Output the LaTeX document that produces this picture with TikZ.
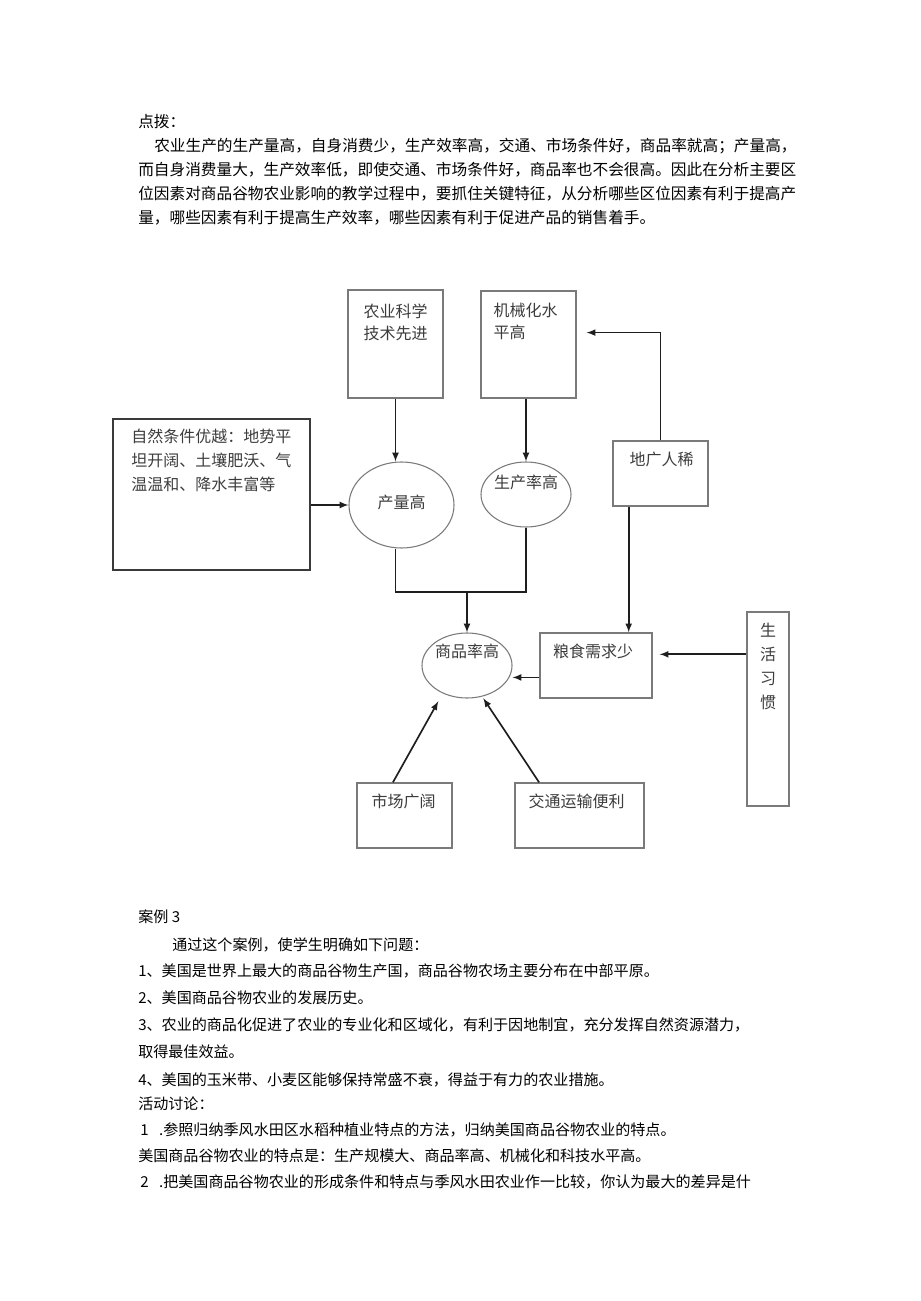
\documentclass[tikz,border=0pt]{standalone}
\usepackage{fontspec}
\setmainfont{Noto Sans CJK SC}
\usetikzlibrary{shapes.geometric,fit,calc}
\definecolor{BoxGray}{HTML}{7A7A7A}
\definecolor{FrameDark}{HTML}{3A3A3A}
\definecolor{InkDark}{HTML}{1E1E1E}
\definecolor{TxtGray}{HTML}{3C3C3C}
\tikzset{
	box/.style={draw=BoxGray, line width=1pt, inner sep=0pt},
	oval/.style={ellipse, draw=BoxGray, line width=0.8pt, inner sep=0pt},
	lbl/.style={text=TxtGray, font=\fontsize{12}{16.5}\selectfont, align=left},
	arr/.style={-latex, draw=InkDark, line width=1.25pt},
	para/.style={anchor=west, font=\fontsize{11.75}{14}\selectfont},
	item/.style={anchor=west, font=\fontsize{11.3}{14}\selectfont}
}

\begin{document}
\begin{tikzpicture}[x=0.75pt, y=-0.75pt, every node/.style={inner sep=0pt}]
		\useasboundingbox (0,0) rectangle (920,1301);
		
		% text above the chart
		\node[para] (p0) at (138,122) {点拨：};
		\node[para] (p1) at (154,146) {农业生产的生产量高，自身消费少，生产效率高，交通、市场条件好，商品率就高；产量高，};
		\node[para] (p2) at (138,170) {而自身消费量大，生产效率低，即使交通、市场条件好，商品率也不会很高。因此在分析主要区};
		\node[para] (p3) at (138,194) {位因素对商品谷物农业影响的教学过程中，要抓住关键特征，从分析哪些区位因素有利于提高产};
		\node[para] (p4) at (138,218) {量，哪些因素有利于提高生产效率，哪些因素有利于促进产品的销售着手。};
		
		% boxes
		\node[box, fit={(348,290) (443,398)}] (nykx) {};
		\node[lbl, anchor=north] (nykxt) at ($(nykx.north)+(0,14)$) {农业科学\\技术先进};
		
		\node[box, fit={(481,291) (576,398)}] (jxh) {};
		\node[lbl, anchor=north west] (jxht) at ($(jxh.north west)+(13,12)$) {机械化水\\平高};
		
		\node[box, draw=FrameDark, line width=1.5pt, fit={(113,419) (310,570)}] (zrtj) {};
		\node[lbl, anchor=north west, font=\fontsize{12}{18}\selectfont] (zrtjt) at ($(zrtj.north west)+(19,11)$) {自然条件优越：地势平\\坦开阔、土壤肥沃、气\\温温和、降水丰富等};
		
		\node[box, fit={(613,441) (708,506)}] (dgrx) {};
		\node[lbl, anchor=north] (dgrxt) at ($(dgrx.north)+(1,11)$) {地广人稀};
		
		\node[box, fit={(540,633) (652,698)}] (lsxq) {};
		\node[lbl, anchor=north] (lsxqt) at ($(lsxq.north)+(-3,11)$) {粮食需求少};
		
		\node[box, fit={(747,612) (789,806)}] (shxg) {};
		\node[lbl, anchor=north, align=center, font=\fontsize{12}{18}\selectfont] (shxgt) at ($(shxg.north)+(0,11)$) {生\\活\\习\\惯};
		
		\node[box, fit={(357,783) (452,848)}] (scgk) {};
		\node[lbl, anchor=north] (scgkt) at ($(scgk.north)+(-1,11)$) {市场广阔};
		
		\node[box, fit={(515,783) (644,848)}] (jtys) {};
		\node[lbl, anchor=north] (jtyst) at ($(jtys.north)+(-3,11)$) {交通运输便利};
		
		% ellipses
		\node[oval, minimum width=78.75pt, minimum height=64.5pt] (clg) at (401.5,505) {};
		\node[lbl] (clgt) at ($(clg)+(0,-3)$) {产量高};
		
		\node[oval, minimum width=67.5pt, minimum height=48.75pt] (scl) at (526,494.5) {};
		\node[lbl] (sclt) at ($(scl)+(0,-12)$) {生产率高};
		
		\node[oval, minimum width=67.5pt, minimum height=48.75pt] (spl) at (467,665.5) {};
		\node[lbl] (splt) at ($(spl)+(0,-14)$) {商品率高};
		
		% connectors
		\draw[arr] (zrtj.east |- clg.west) -- (clg.west);
		\draw[arr] (nykx.south) -- (nykx.south |- clg.north);
		\draw[arr] (scl.north |- jxh.south) -- (scl.north);
		
		\coordinate (jl) at ($(nykx.south)+(0,193)$);
		\draw[InkDark, line width=1.25pt] (jl |- clg.south) -- (jl) -| (scl.south);
		\draw[arr] (spl.north |- jl) -- (spl.north);
		
		\draw[arr, shorten >=7.5pt] (dgrx.north) |- ($(jxh.north east)!0.39!(jxh.south east)$);
		\coordinate (dg) at ($(dgrx.south west)!0.17!(dgrx.south east)$);
		\draw[arr] (dg) -- (dg |- lsxq.north);
		
		\coordinate (lsw) at ($(lsxq.north west)!0.68!(lsxq.south west)$);
		\draw[arr] (lsw) -- (lsw -| spl.east);
		\coordinate (shw) at ($(shxg.north west)!0.22!(shxg.south west)$);
		\draw[arr, shorten >=5.25pt] (shw) -- (shw -| lsxq.east);
		
		\draw[arr, shorten >=6.75pt] ($(scgk.north west)!0.38!(scgk.north east)$) -- (spl.-131);
		\draw[arr, shorten >=1.5pt] ($(jtys.north west)!0.19!(jtys.north east)$) -- (spl.-64);
		
		% text below the chart
		\node[item] (q0) at (138,917) {案例 3};
		\node[item] (q1) at (172,945) {通过这个案例，使学生明确如下问题：};
		\node[item] (q2) at (138,971) {1、美国是世界上最大的商品谷物生产国，商品谷物农场主要分布在中部平原。};
		\node[item] (q3) at (138,998) {2、美国商品谷物农业的发展历史。};
		\node[item] (q4) at (138,1025) {3、农业的商品化促进了农业的专业化和区域化，有利于因地制宜，充分发挥自然资源潜力，};
		\node[item] (q5) at (138,1052) {取得最佳效益。};
		\node[item] (q6) at (138,1080) {4、美国的玉米带、小麦区能够保持常盛不衰，得益于有力的农业措施。};
		\node[item] (q7) at (138,1104) {活动讨论：};
		\node[item] (q8) at (140,1130) {1\hspace{0.7em}.参照归纳季风水田区水稻种植业特点的方法，归纳美国商品谷物农业的特点。};
		\node[item] (q9) at (138,1156) {美国商品谷物农业的特点是：生产规模大、商品率高、机械化和科技水平高。};
		\node[item] (q10) at (140,1182) {2\hspace{0.7em}.把美国商品谷物农业的形成条件和特点与季风水田农业作一比较，你认为最大的差异是什};
		
	\end{tikzpicture}
\end{document}
